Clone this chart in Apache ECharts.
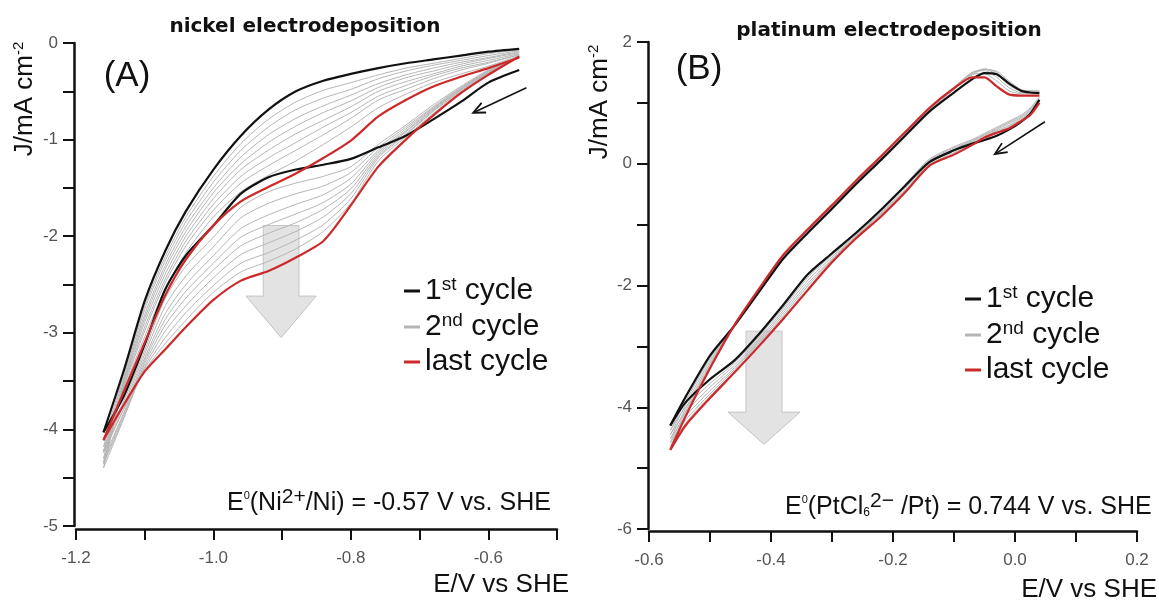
<!DOCTYPE html>
<html>
<head>
<meta charset="utf-8">
<title>Nickel and platinum electrodeposition</title>
<script src="https://cdn.jsdelivr.net/npm/echarts@6/dist/echarts.min.js"></script>
<style>
  html, body { margin: 0; padding: 0; background: #fff; }
  #chart { width: 1159px; height: 603px; }
</style>
</head>
<body>
<div id="chart"></div>
<script>
// ---- (A) nickel: potential grid (V vs SHE) and current density (mA cm-2) per branch ----
const nickelPotential = [-1.16, -1.13, -1.10, -1.07, -1.04, -1.00, -0.96, -0.92, -0.88, -0.84, -0.80, -0.76, -0.72, -0.68, -0.64, -0.60, -0.555]

// cathodic sweep (towards -1.16 V) and return sweep
const nickelFirstFwd = [-4.03, -3.65, -3.12, -2.55, -2.20, -1.89, -1.56, -1.39, -1.31, -1.26, -1.20, -1.08, -0.96, -0.79, -0.61, -0.41, -0.28]
const nickelFirstRev = [-4.03, -3.38, -2.67, -2.15, -1.74, -1.31, -0.96, -0.69, -0.50, -0.39, -0.32, -0.26, -0.21, -0.17, -0.13, -0.09, -0.06]
const nickelLastFwd = [-4.11, -3.74, -3.40, -3.17, -2.94, -2.66, -2.46, -2.36, -2.22, -2.05, -1.68, -1.28, -1.00, -0.75, -0.52, -0.33, -0.14]
const nickelLastRev = [-4.11, -3.60, -3.10, -2.61, -2.24, -1.89, -1.64, -1.49, -1.35, -1.19, -1.01, -0.76, -0.59, -0.45, -0.35, -0.26, -0.15]

const nickelMidFwd = [
  [-4.12, -3.70, -3.18, -2.64, -2.31, -2.01, -1.70, -1.54, -1.45, -1.38, -1.28, -1.05, -0.85, -0.64, -0.45, -0.28, -0.15],
  [-4.18, -3.74, -3.22, -2.72, -2.41, -2.11, -1.81, -1.66, -1.56, -1.48, -1.34, -1.08, -0.87, -0.66, -0.46, -0.29, -0.15],
  [-4.24, -3.78, -3.26, -2.80, -2.50, -2.20, -1.92, -1.78, -1.67, -1.57, -1.40, -1.11, -0.89, -0.67, -0.47, -0.29, -0.15],
  [-4.30, -3.82, -3.29, -2.86, -2.57, -2.28, -2.01, -1.88, -1.77, -1.65, -1.46, -1.13, -0.91, -0.68, -0.48, -0.30, -0.14],
  [-4.36, -3.86, -3.32, -2.92, -2.64, -2.35, -2.10, -1.97, -1.86, -1.72, -1.51, -1.15, -0.92, -0.69, -0.48, -0.30, -0.14],
  [-4.40, -3.88, -3.35, -2.98, -2.72, -2.43, -2.19, -2.07, -1.95, -1.80, -1.56, -1.17, -0.94, -0.70, -0.49, -0.31, -0.14],
  [-4.34, -3.84, -3.37, -3.05, -2.79, -2.51, -2.28, -2.17, -2.04, -1.88, -1.61, -1.19, -0.95, -0.71, -0.50, -0.31, -0.14],
  [-4.22, -3.78, -3.39, -3.11, -2.87, -2.58, -2.37, -2.26, -2.13, -1.95, -1.66, -1.22, -0.97, -0.73, -0.51, -0.32, -0.14]
]
const nickelMidRev = [
  [-4.12, -3.42, -2.72, -2.21, -1.80, -1.38, -1.04, -0.79, -0.61, -0.49, -0.41, -0.33, -0.26, -0.21, -0.16, -0.11, -0.07],
  [-4.18, -3.45, -2.76, -2.25, -1.85, -1.44, -1.11, -0.87, -0.69, -0.57, -0.48, -0.37, -0.29, -0.23, -0.18, -0.13, -0.08],
  [-4.24, -3.48, -2.81, -2.30, -1.90, -1.50, -1.18, -0.95, -0.78, -0.65, -0.54, -0.42, -0.33, -0.26, -0.20, -0.15, -0.09],
  [-4.30, -3.50, -2.85, -2.34, -1.95, -1.55, -1.25, -1.03, -0.86, -0.72, -0.60, -0.46, -0.36, -0.29, -0.22, -0.16, -0.10],
  [-4.36, -3.52, -2.89, -2.39, -2.00, -1.61, -1.31, -1.11, -0.94, -0.80, -0.66, -0.50, -0.40, -0.32, -0.24, -0.18, -0.11],
  [-4.40, -3.54, -2.94, -2.44, -2.05, -1.67, -1.38, -1.19, -1.03, -0.87, -0.72, -0.55, -0.44, -0.34, -0.26, -0.20, -0.12],
  [-4.34, -3.56, -2.98, -2.48, -2.10, -1.73, -1.45, -1.27, -1.11, -0.95, -0.78, -0.59, -0.48, -0.37, -0.28, -0.21, -0.12],
  [-4.22, -3.58, -3.04, -2.54, -2.17, -1.80, -1.54, -1.37, -1.22, -1.05, -0.87, -0.67, -0.53, -0.41, -0.32, -0.24, -0.13]
]

// ---- (B) platinum ----
const platinumPotential = [-0.565, -0.54, -0.50, -0.46, -0.42, -0.38, -0.34, -0.30, -0.26, -0.22, -0.18, -0.14, -0.10, -0.07, -0.05, -0.03, -0.01, 0.01, 0.025, 0.04]

const platinumFirstUp = [-4.30, -3.83, -3.15, -2.66, -2.11, -1.56, -1.14, -0.74, -0.33, 0.06, 0.46, 0.86, 1.17, 1.39, 1.49, 1.47, 1.32, 1.20, 1.17, 1.16]
const platinumFirstDown = [-4.30, -3.92, -3.54, -3.23, -2.80, -2.32, -1.82, -1.47, -1.13, -0.76, -0.36, 0.03, 0.22, 0.33, 0.39, 0.46, 0.56, 0.69, 0.82, 1.05]
const platinumLastUp = [-4.70, -4.15, -3.36, -2.65, -2.06, -1.50, -1.08, -0.68, -0.27, 0.12, 0.52, 0.92, 1.24, 1.42, 1.42, 1.27, 1.14, 1.12, 1.12, 1.12]
const platinumLastDown = [-4.70, -4.30, -3.85, -3.43, -3.00, -2.55, -2.08, -1.62, -1.22, -0.87, -0.47, -0.03, 0.15, 0.31, 0.43, 0.51, 0.58, 0.70, 0.80, 1.00]

const platinumMidUp = [
  [-4.38, -3.90, -3.20, -2.66, -2.10, -1.55, -1.13, -0.73, -0.32, 0.07, 0.48, 0.88, 1.22, 1.46, 1.55, 1.52, 1.36, 1.22, 1.20, 1.20],
  [-4.45, -3.96, -3.24, -2.66, -2.09, -1.54, -1.12, -0.72, -0.31, 0.08, 0.49, 0.89, 1.24, 1.48, 1.56, 1.50, 1.33, 1.21, 1.19, 1.19],
  [-4.52, -4.02, -3.28, -2.65, -2.08, -1.53, -1.11, -0.71, -0.30, 0.09, 0.50, 0.90, 1.25, 1.50, 1.55, 1.47, 1.29, 1.19, 1.18, 1.18],
  [-4.58, -4.07, -3.31, -2.65, -2.07, -1.52, -1.10, -0.70, -0.29, 0.10, 0.51, 0.91, 1.26, 1.50, 1.53, 1.42, 1.25, 1.17, 1.17, 1.17],
  [-4.64, -4.11, -3.34, -2.65, -2.06, -1.51, -1.09, -0.69, -0.28, 0.11, 0.52, 0.92, 1.25, 1.47, 1.48, 1.36, 1.20, 1.15, 1.15, 1.15]
]
const platinumMidDown = [
  [-4.38, -4.00, -3.61, -3.27, -2.84, -2.37, -1.87, -1.50, -1.14, -0.76, -0.34, 0.08, 0.28, 0.40, 0.50, 0.60, 0.70, 0.80, 0.92, 1.10],
  [-4.45, -4.08, -3.67, -3.31, -2.88, -2.41, -1.92, -1.53, -1.16, -0.79, -0.37, 0.06, 0.26, 0.38, 0.48, 0.58, 0.68, 0.78, 0.90, 1.08],
  [-4.52, -4.15, -3.73, -3.35, -2.91, -2.45, -1.97, -1.56, -1.18, -0.81, -0.40, 0.03, 0.24, 0.37, 0.47, 0.56, 0.66, 0.76, 0.88, 1.06],
  [-4.58, -4.21, -3.78, -3.38, -2.94, -2.49, -2.01, -1.58, -1.19, -0.83, -0.43, 0.01, 0.21, 0.35, 0.45, 0.54, 0.63, 0.74, 0.86, 1.04],
  [-4.64, -4.26, -3.82, -3.41, -2.97, -2.52, -2.05, -1.60, -1.21, -0.85, -0.45, -0.01, 0.18, 0.33, 0.44, 0.52, 0.61, 0.72, 0.84, 1.02]
]

const legendNames = ['1st cycle', '2nd cycle', 'last cycle']

// annotation anchors, in data units of each panel
const nickelTrendArrow = { e: -0.9015, halfShaft: 0.026, halfHead: 0.051, top: -1.89, neck: -2.62, tip: -3.05 }
const platinumTrendArrow = { e: -0.4115, halfShaft: 0.0295, halfHead: 0.059, top: -2.75, neck: -4.08, tip: -4.61 }
const nickelScanArrow = { from: [-0.5445, -0.463], to: [-0.622, -0.722] }
const platinumScanArrow = { from: [0.049, 0.69], to: [-0.033, 0.16] }

const FONT = '"Liberation Sans", Arial, sans-serif'
const BLACK = '#111111'
const GRAY = '#b5b5b5'
const RED = '#cc2a2a'

function zip(xs, ys) {
  return xs.map((x, i) => [x, ys[i]])
}

function branch(name, grid, xs, ys, color, width, z) {
  return {
    name: name,
    type: 'line',
    xAxisIndex: grid,
    yAxisIndex: grid,
    data: zip(xs, ys),
    symbol: 'none',
    showSymbol: false,
    smooth: 0.25,
    lineStyle: { color: color, width: width },
    itemStyle: { color: color },
    z: z,
    silent: true,
    animation: false
  }
}

const series = []
nickelMidFwd.forEach(ys => series.push(branch('2nd cycle', 0, nickelPotential, ys, GRAY, 1, 2)))
nickelMidRev.forEach(ys => series.push(branch('2nd cycle', 0, nickelPotential, ys, GRAY, 1, 2)))
series.push(branch('1st cycle', 0, nickelPotential, nickelFirstFwd, BLACK, 2.2, 3))
series.push(branch('1st cycle', 0, nickelPotential, nickelFirstRev, BLACK, 2.2, 3))
series.push(branch('last cycle', 0, nickelPotential, nickelLastFwd, RED, 2.2, 4))
series.push(branch('last cycle', 0, nickelPotential, nickelLastRev, RED, 2.2, 4))

platinumMidUp.forEach(ys => series.push(branch('2nd cycle', 1, platinumPotential, ys, GRAY, 1, 2)))
platinumMidDown.forEach(ys => series.push(branch('2nd cycle', 1, platinumPotential, ys, GRAY, 1, 2)))
series.push(branch('1st cycle', 1, platinumPotential, platinumFirstUp, BLACK, 2.2, 3))
series.push(branch('1st cycle', 1, platinumPotential, platinumFirstDown, BLACK, 2.2, 3))
series.push(branch('last cycle', 1, platinumPotential, platinumLastUp, RED, 2.2, 4))
series.push(branch('last cycle', 1, platinumPotential, platinumLastDown, RED, 2.2, 4))

function axisBase(grid, offset) {
  return {
    gridIndex: grid,
    type: 'value',
    offset: offset,
    axisLine: { show: true, onZero: false, lineStyle: { color: BLACK, width: 2.5 } },
    axisTick: { show: true, inside: false, length: 11, lineStyle: { color: BLACK, width: 2 } },
    splitLine: { show: false },
    axisLabel: { fontSize: 17, color: '#555', fontFamily: FONT }
  }
}

const isEvenTenth = v => Math.abs(Math.round(v * 10)) % 2 === 0

const xA = axisBase(0, 3)
Object.assign(xA, { min: -1.2, max: -0.5, interval: 0.1 })
xA.axisLabel.margin = 21
xA.axisLabel.formatter = v => (isEvenTenth(v) ? v.toFixed(1) : '')

const xB = axisBase(1, 2)
Object.assign(xB, { min: -0.6, max: 0.2, interval: 0.1 })
xB.axisLabel.margin = 21
xB.axisLabel.formatter = v => (isEvenTenth(v) ? v.toFixed(1) : '')

const yA = axisBase(0, 2)
Object.assign(yA, { min: -5, max: 0, interval: 0.5 })
yA.axisLabel.margin = 16
yA.axisLabel.formatter = v => (Math.abs(v - Math.round(v)) < 1e-6 ? String(Math.round(v)) : '')

const yB = axisBase(1, 1)
Object.assign(yB, { min: -6, max: 2, interval: 1 })
yB.axisLabel.margin = 16
yB.axisLabel.formatter = v => (Math.abs(Math.round(v)) % 2 === 0 ? String(Math.round(v)) : '')

const legendRich = {
  n: { fontSize: 30, fontFamily: FONT, color: BLACK, lineHeight: 34 },
  s: { fontSize: 19, fontFamily: FONT, color: BLACK, padding: [0, 0, 13, 0] }
}
const legendText = {
  '1st cycle': '{n|1}{s|st}{n| cycle}',
  '2nd cycle': '{n|2}{s|nd}{n| cycle}',
  'last cycle': '{n|last cycle}'
}
function legendAt(left, top) {
  return {
    data: legendNames.map(name => ({ name: name, icon: 'rect' })),
    orient: 'vertical',
    left: left,
    top: top,
    itemWidth: 16,
    itemHeight: 3,
    itemGap: 5,
    selectedMode: false,
    formatter: name => legendText[name],
    textStyle: { fontSize: 30, fontFamily: FONT, color: BLACK, rich: legendRich }
  }
}

const option = {
  backgroundColor: '#fff',
  animation: false,
  grid: [
    { left: 76, right: 602, top: 43, bottom: 77 },
    { left: 649, right: 22, top: 42, bottom: 74 }
  ],
  xAxis: [xA, xB],
  yAxis: [yA, yB],
  legend: [legendAt(399, 270), legendAt(960, 278)],
  series: series
}

const chart = echarts.init(document.getElementById('chart'))
chart.setOption(option)

// ---- texts and arrows ----
const px = (grid, p) => chart.convertToPixel({ gridIndex: grid }, p)

function trendArrow(grid, a) {
  const pts = [
    [a.e - a.halfShaft, a.top], [a.e + a.halfShaft, a.top], [a.e + a.halfShaft, a.neck],
    [a.e + a.halfHead, a.neck], [a.e, a.tip], [a.e - a.halfHead, a.neck], [a.e - a.halfShaft, a.neck]
  ].map(p => px(grid, p))
  return {
    type: 'polygon', z: 1, silent: true,
    shape: { points: pts },
    style: { fill: '#e3e3e3', stroke: '#c4c4c4', lineWidth: 1 }
  }
}

function scanArrow(grid, a) {
  const p0 = px(grid, a.from)
  const p1 = px(grid, a.to)
  const ang = Math.atan2(p1[1] - p0[1], p1[0] - p0[0])
  const len = 13
  const spread = 0.42
  const wing = s => [p1[0] - len * Math.cos(ang + s), p1[1] - len * Math.sin(ang + s)]
  return [
    { type: 'line', z: 10, silent: true, shape: { x1: p0[0], y1: p0[1], x2: p1[0], y2: p1[1] }, style: { stroke: BLACK, lineWidth: 1.5 } },
    { type: 'polyline', z: 10, silent: true, shape: { points: [wing(spread), p1, wing(-spread)] }, style: { stroke: BLACK, lineWidth: 1.8, fill: null } }
  ]
}

function label(x, y, text, extra) {
  return {
    type: 'text', x: x, y: y, z: 10, silent: true,
    style: Object.assign({ text: text, fill: BLACK, font: '24px ' + FONT, align: 'left', verticalAlign: 'middle' }, extra || {})
  }
}

const annRich = {
  t: { fontSize: 25, fontFamily: FONT, color: BLACK, lineHeight: 30 },
  z: { fontSize: 11, fontFamily: FONT, color: BLACK, padding: [0, 0, 14, 0] },
  u: { fontSize: 21, fontFamily: FONT, color: BLACK, padding: [0, 0, 11, 0] },
  d: { fontSize: 12, fontFamily: FONT, color: BLACK, padding: [12, 0, 0, 0] }
}
const nameRich = {
  t: { fontSize: 26, fontFamily: FONT, color: BLACK, lineHeight: 30 },
  u: { fontSize: 15, fontFamily: FONT, color: BLACK, padding: [0, 0, 12, 0] }
}

const graphic = [
  trendArrow(0, nickelTrendArrow),
  trendArrow(1, platinumTrendArrow),
  ...scanArrow(0, nickelScanArrow),
  ...scanArrow(1, platinumScanArrow),
  label(305, 27, 'nickel electrodeposition', { font: 'bold 20px "DejaVu Sans", sans-serif', align: 'center' }),
  label(889, 31, 'platinum electrodeposition', { font: 'bold 20px "DejaVu Sans", sans-serif', align: 'center' }),
  label(127, 76, '(A)', { font: '35px ' + FONT, align: 'center' }),
  label(699, 69, '(B)', { font: '35px ' + FONT, align: 'center' }),
  label(569, 585, 'E/V vs SHE', { font: '26px ' + FONT, align: 'right' }),
  label(1157, 590, 'E/V vs SHE', { font: '26px ' + FONT, align: 'right' }),
  Object.assign(label(25, 99, '{t|J/mA cm}{u|-2}', { align: 'center', rich: nameRich }), { rotation: Math.PI / 2 }),
  Object.assign(label(600, 102, '{t|J/mA cm}{u|-2}', { align: 'center', rich: nameRich }), { rotation: Math.PI / 2 }),
  label(227, 503, '{t|E}{z|0}{t|(Ni}{u|2+}{t|/Ni) = -0.57 V vs. SHE}', { rich: annRich }),
  label(785, 507, '{t|E}{z|0}{t|(PtCl}{d|6}{u|2\u2212}{t| /Pt) = 0.744 V vs. SHE}', { rich: annRich })
]

chart.setOption({ graphic: graphic })
</script>
</body>
</html>
